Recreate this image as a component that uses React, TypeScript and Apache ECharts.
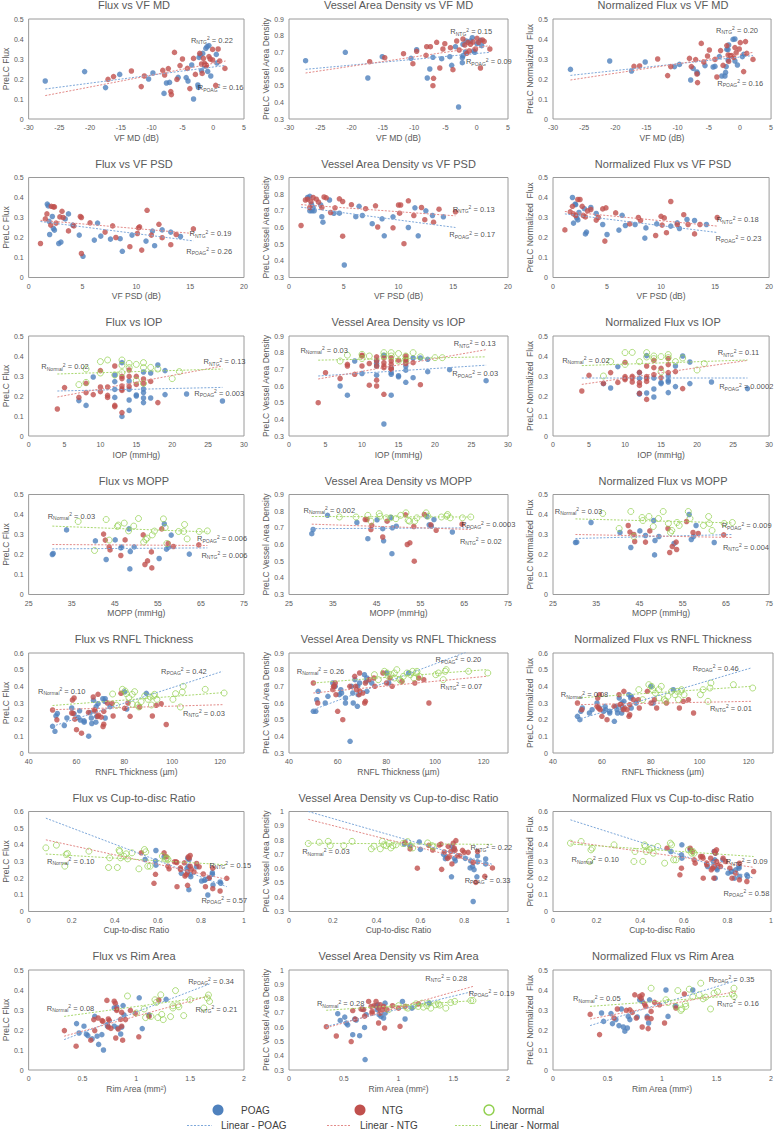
import React, { useEffect, useRef } from "react";
import * as echarts from "echarts";

type Pt = [number, number];
type Note = [string, string, number, number];

// ---------- Row 1: VF MD ----------
const mdFluxPoag: Pt[] = [[-27.3,0.19],[-20.9,0.237],[-17.5,0.157],[-15.2,0.223],[-10.5,0.2],[-9.8,0.23],[-8,0.128],[-7.6,0.18],[-7.1,0.183],[-5.7,0.208],[-4.4,0.207],[-4.1,0.19],[-3.5,0.27],[-3.2,0.1],[-2.5,0.17],[-2.4,0.158],[-2.3,0.308],[-2.1,0.32],[-1.9,0.242],[-1.7,0.328],[-1.4,0.265],[-1.2,0.353],[-1,0.362],[-0.9,0.238],[-0.7,0.367],[-0.4,0.215],[0.5,0.323],[0.6,0.28]];
const mdFluxNtg: Pt[] = [[-17.1,0.198],[-16.2,0.212],[-13.3,0.24],[-11.7,0.162],[-11.2,0.215],[-8.2,0.243],[-7.9,0.22],[-7.3,0.252],[-6.9,0.137],[-6.8,0.122],[-6.3,0.333],[-5.9,0.198],[-5.4,0.267],[-5,0.3],[-4.2,0.253],[-3.8,0.152],[-3.2,0.303],[-2.9,0.223],[-2.2,0.328],[-1.9,0.275],[-1.8,0.228],[-1.6,0.303],[-1.4,0.278],[-1.2,0.27],[-1.1,0.267],[-0.7,0.312],[-0.5,0.3],[-0.1,0.348],[-0.1,0.295],[0.4,0.168],[0.8,0.35],[1.05,0.29],[1.9,0.253]];
const mdFluxTrendPoag: Pt[] = [[-27.3,0.15],[2.0,0.268]];
const mdFluxTrendNtg: Pt[] = [[-27.3,0.117],[2.0,0.29]];
const mdFluxNotes: Note[] = [["NTG","0.22",-3.7,0.395],["POAG","0.16",-2.6,0.157]];

const mdVadPoag: Pt[] = [[-27.35,0.65],[-21,0.7],[-17.4,0.546],[-15.1,0.674],[-10.5,0.664],[-9.6,0.716],[-7.9,0.546],[-7.5,0.6],[-7,0.67],[-5.6,0.662],[-4.3,0.674],[-4,0.622],[-3.4,0.734],[-2.9,0.372],[-2.3,0.668],[-2.3,0.638],[-2.2,0.68],[-2.2,0.748],[-1.8,0.702],[-1.7,0.768],[-1,0.768],[-0.7,0.788],[-0.5,0.708],[-0.3,0.7],[0.05,0.752],[0.6,0.772],[0.8,0.74]];
const mdVadNtg: Pt[] = [[-17.1,0.644],[-14.7,0.668],[-11.7,0.692],[-10.2,0.632],[-9.6,0.706],[-8.1,0.682],[-8,0.734],[-7.4,0.734],[-7,0.5],[-6.9,0.544],[-6.4,0.76],[-5.9,0.606],[-5.4,0.72],[-5.1,0.752],[-4.2,0.728],[-3.8,0.596],[-3.2,0.768],[-2.8,0.714],[-2.2,0.78],[-1.9,0.744],[-1.6,0.694],[-1.4,0.76],[-1.2,0.708],[-1,0.748],[-0.6,0.762],[-0.2,0.72],[0.05,0.784],[0.3,0.76],[0.6,0.606],[0.9,0.774],[1.2,0.766],[2.1,0.72]];
const mdVadTrendPoag: Pt[] = [[-27.35,0.598],[2.1,0.7]];
const mdVadTrendNtg: Pt[] = [[-27.35,0.576],[2.1,0.74]];
const mdVadNotes: Note[] = [["NTG","0.15",-4.3,0.824],["POAG","0.09",-1.8,0.644]];

const mdNfPoag: Pt[] = [[-27.2,0.248],[-20.9,0.29],[-17.4,0.24],[-15.2,0.285],[-10.5,0.262],[-9.7,0.273],[-7.9,0.195],[-7.5,0.253],[-6.9,0.235],[-6.8,0.228],[-5.6,0.267],[-4.3,0.26],[-4,0.263],[-3.3,0.312],[-2.9,0.215],[-2.4,0.215],[-2.3,0.233],[-2.2,0.262],[-2.1,0.348],[-1.9,0.347],[-1.9,0.295],[-1.8,0.37],[-1.1,0.398],[-0.8,0.4],[-0.8,0.29],[-0.4,0.27],[0.4,0.312],[0.6,0.323]];
const mdNfNtg: Pt[] = [[-17,0.263],[-16.1,0.265],[-13.2,0.3],[-11.6,0.217],[-11.1,0.262],[-8.1,0.303],[-7.8,0.262],[-7.1,0.297],[-6.9,0.225],[-6.8,0.182],[-6.2,0.378],[-5.8,0.285],[-5.2,0.315],[-4.9,0.345],[-4,0.298],[-3.7,0.21],[-3.1,0.342],[-2.7,0.268],[-2.1,0.367],[-1.9,0.32],[-1.8,0.288],[-1.6,0.317],[-1.3,0.317],[-1,0.308],[-0.8,0.357],[-0.6,0.332],[-0.1,0.35],[0.06,0.382],[0.6,0.237],[0.9,0.387],[1.1,0.328],[2.1,0.298]];
const mdNfTrendPoag: Pt[] = [[-27.2,0.218],[2.1,0.317]];
const mdNfTrendNtg: Pt[] = [[-27.2,0.195],[2.1,0.333]];
const mdNfNotes: Note[] = [["NTG","0.20",-3.9,0.445],["POAG","0.16",-3.7,0.178]];

// ---------- Row 2: VF PSD ----------
const psdFluxPoag: Pt[] = [[1.73,0.367],[1.82,0.358],[1.9,0.281],[1.95,0.215],[2.2,0.305],[2.3,0.245],[2.4,0.237],[2.8,0.17],[3,0.177],[3.4,0.293],[3.7,0.318],[4.1,0.262],[4.7,0.212],[5.05,0.106],[6.1,0.187],[6.4,0.272],[6.7,0.207],[7.6,0.192],[8.5,0.194],[8.7,0.131],[9.6,0.212],[10.9,0.182],[11.5,0.232],[11.7,0.159],[12.4,0.238],[13.2,0.227],[14.1,0.205]];
const psdFluxNtg: Pt[] = [[1.1,0.17],[1.55,0.293],[1.7,0.318],[2.05,0.262],[2.1,0.356],[2.3,0.353],[2.4,0.353],[2.55,0.272],[2.9,0.303],[3.1,0.331],[3.2,0.3],[3.7,0.233],[4.2,0.258],[4.8,0.305],[4.9,0.3],[4.9,0.12],[5.7,0.273],[7.1,0.227],[7.8,0.258],[8.1,0.2],[9.4,0.154],[10.1,0.22],[10.2,0.248],[10.3,0.253],[10.5,0.137],[11,0.336],[11.4,0.212],[12.1,0.266],[12.4,0.199],[13.2,0.164],[13.7,0.215],[15.3,0.243]];
const psdFluxTrendPoag: Pt[] = [[1.1,0.28],[15.3,0.183]];
const psdFluxTrendNtg: Pt[] = [[1.1,0.286],[15.3,0.22]];
const psdFluxNotes: Note[] = [["NTG","0.19",14.9,0.22],["POAG","0.26",14.6,0.132]];

const psdVadPoag: Pt[] = [[1.7,0.78],[1.9,0.787],[1.9,0.7],[2.05,0.74],[2.1,0.7],[2.2,0.72],[2.3,0.7],[2.9,0.735],[3,0.665],[3.1,0.632],[3.7,0.765],[4.1,0.685],[4.6,0.686],[5.05,0.375],[6.1,0.665],[6.4,0.727],[6.7,0.672],[7.6,0.623],[8.5,0.652],[8.7,0.55],[9.5,0.664],[10.9,0.6],[11.5,0.718],[11.8,0.55],[12.5,0.7],[13.1,0.672],[14.1,0.664]];
const psdVadNtg: Pt[] = [[1.1,0.612],[1.5,0.765],[1.7,0.77],[1.9,0.72],[2,0.755],[2.2,0.78],[2.5,0.77],[2.7,0.752],[3,0.72],[3.2,0.783],[3.4,0.778],[3.8,0.69],[4.2,0.718],[4.6,0.772],[4.9,0.756],[4.9,0.548],[5.7,0.737],[7,0.713],[7.9,0.73],[8.1,0.603],[9.5,0.598],[10,0.735],[10.1,0.686],[10.2,0.735],[10.5,0.503],[10.9,0.76],[11.4,0.672],[12.1,0.72],[12.4,0.647],[13.2,0.632],[13.7,0.71],[15.2,0.694]];
const psdVadTrendPoag: Pt[] = [[1.1,0.722],[15.2,0.6]];
const psdVadTrendNtg: Pt[] = [[1.1,0.737],[15.2,0.67]];
const psdVadNotes: Note[] = [["NTG","0.13",14.9,0.71],["POAG","0.17",14.6,0.558]];

const psdNfPoag: Pt[] = [[1.8,0.4],[2.05,0.367],[1.9,0.272],[2.1,0.364],[2.2,0.298],[2.3,0.288],[2.4,0.325],[2.9,0.344],[3,0.218],[3.1,0.227],[3.5,0.35],[4,0.32],[4.6,0.265],[5,0.215],[6.1,0.237],[6.4,0.311],[6.7,0.26],[7.6,0.265],[8.5,0.197],[8.6,0.248],[9.6,0.268],[10.9,0.257],[11.5,0.273],[11.7,0.245],[12.4,0.29],[13.1,0.285],[14.2,0.265]];
const psdNfNtg: Pt[] = [[1.1,0.238],[1.6,0.328],[1.8,0.356],[1.9,0.318],[2.1,0.31],[2.3,0.39],[2.5,0.39],[2.7,0.356],[2.8,0.31],[3,0.303],[3.2,0.333],[3.5,0.34],[4,0.287],[4.2,0.3],[4.6,0.343],[4.9,0.348],[4.8,0.182],[5.8,0.323],[7.1,0.268],[7.9,0.3],[8.1,0.285],[9.5,0.21],[10,0.306],[10.1,0.262],[10.3,0.298],[10.5,0.224],[10.9,0.38],[11.5,0.265],[12.1,0.314],[12.5,0.265],[13.1,0.218],[13.6,0.265],[15.2,0.3]];
const psdNfTrendPoag: Pt[] = [[1.1,0.318],[15.2,0.225]];
const psdNfTrendNtg: Pt[] = [[1.1,0.33],[15.2,0.257]];
const psdNfNotes: Note[] = [["NTG","0.18",15.1,0.29],["POAG","0.23",15.0,0.195]];

// ---------- Row 3: IOP ----------
const iopFluxPoag: Pt[] = [[7,0.177],[8,0.153],[9,0.295],[12,0.305],[12,0.272],[12,0.233],[12,0.193],[13,0.367],[13,0.098],[14,0.275],[14,0.233],[14,0.18],[14,0.128],[15,0.205],[15,0.2],[16,0.32],[16,0.235],[16,0.217],[16,0.19],[16,0.167],[17,0.315],[17,0.19],[18,0.355],[19,0.327],[19,0.207],[22,0.21],[27,0.175]];
const iopFluxNtg: Pt[] = [[4,0.135],[5,0.242],[7,0.193],[8,0.263],[8,0.217],[9,0.207],[10,0.327],[10,0.245],[10,0.222],[11,0.245],[11,0.203],[11,0.193],[12,0.35],[12,0.153],[12,0.147],[13,0.298],[13,0.287],[13,0.25],[13,0.235],[13,0.228],[13,0.117],[14,0.33],[14,0.298],[14,0.248],[15,0.298],[15,0.258],[16,0.285],[16,0.263],[17,0.273],[18,0.167]];
const iopFluxNormal: Pt[] = [[7,0.257],[8,0.335],[8,0.268],[10,0.372],[10,0.315],[11,0.38],[12,0.305],[13,0.38],[13,0.353],[13,0.317],[14,0.363],[14,0.342],[15,0.358],[15,0.278],[16,0.367],[16,0.342],[16,0.263],[17,0.343],[18,0.335],[20,0.287],[21,0.322]];
const iopFluxTrendPoag: Pt[] = [[4,0.225],[27,0.243]];
const iopFluxTrendNtg: Pt[] = [[4,0.195],[27,0.35]];
const iopFluxTrendNormal: Pt[] = [[4,0.31],[27,0.335]];
const iopFluxNotes: Note[] = [["Normal","0.02",1.7,0.347],["NTG","0.13",24.3,0.372],["POAG","0.003",23,0.213]];

const iopVadPoag: Pt[] = [[7,0.6],[8,0.545],[9,0.75],[10,0.675],[12,0.665],[12,0.72],[12,0.735],[12,0.755],[13,0.785],[13,0.372],[14,0.71],[14,0.68],[14,0.67],[14,0.545],[15,0.662],[15,0.655],[16,0.745],[16,0.72],[16,0.695],[16,0.622],[17,0.768],[17,0.65],[18,0.768],[19,0.76],[19,0.686],[22,0.698],[27,0.632]];
const iopVadNtg: Pt[] = [[4,0.5],[5,0.68],[7,0.645],[8,0.73],[8,0.72],[9,0.67],[10,0.785],[10,0.78],[10,0.72],[11,0.735],[11,0.605],[12,0.775],[12,0.635],[12,0.6],[12,0.75],[12,0.72],[13,0.77],[13,0.74],[13,0.72],[13,0.71],[13,0.55],[14,0.77],[14,0.75],[14,0.73],[14,0.705],[14,0.7],[15,0.755],[16,0.78],[16,0.765],[16,0.75],[16,0.735],[17,0.74],[18,0.608]];
const iopVadNormal: Pt[] = [[7,0.75],[8,0.785],[10,0.79],[10,0.765],[11,0.78],[13,0.8],[13,0.78],[14,0.8],[14,0.78],[15,0.795],[15,0.75],[16,0.78],[16,0.755],[17,0.8],[18,0.775],[20,0.77],[21,0.77]];
const iopVadTrendPoag: Pt[] = [[4,0.66],[27,0.725]];
const iopVadTrendNtg: Pt[] = [[4,0.642],[27,0.818]];
const iopVadTrendNormal: Pt[] = [[4,0.755],[27,0.775]];
const iopVadNotes: Note[] = [["Normal","0.03",1.5,0.815],["NTG","0.13",22.5,0.853],["POAG","0.03",22.3,0.674]];

const iopNfPoag: Pt[] = [[7,0.262],[8,0.24],[9,0.347],[12,0.317],[12,0.288],[12,0.213],[12,0.21],[13,0.402],[13,0.215],[14,0.29],[14,0.235],[14,0.195],[15,0.268],[15,0.262],[16,0.3],[16,0.278],[16,0.27],[16,0.217],[17,0.35],[17,0.247],[18,0.4],[19,0.37],[19,0.262],[22,0.27],[27,0.237]];
const iopNfNtg: Pt[] = [[4,0.225],[5,0.303],[7,0.263],[8,0.317],[9,0.268],[10,0.368],[10,0.297],[10,0.288],[10,0.282],[11,0.298],[11,0.29],[11,0.27],[12,0.318],[12,0.267],[12,0.253],[12,0.213],[13,0.35],[13,0.297],[13,0.288],[13,0.273],[13,0.183],[14,0.378],[14,0.342],[14,0.307],[15,0.338],[15,0.292],[16,0.387],[16,0.357],[16,0.317],[17,0.322],[18,0.237]];
const iopNfNormal: Pt[] = [[7,0.3],[8,0.372],[10,0.417],[10,0.358],[11,0.418],[12,0.372],[13,0.417],[13,0.395],[14,0.4],[14,0.387],[15,0.397],[15,0.32],[16,0.407],[16,0.392],[17,0.372],[18,0.39],[20,0.33],[21,0.362]];
const iopNfTrendPoag: Pt[] = [[4,0.29],[27,0.29]];
const iopNfTrendNtg: Pt[] = [[4,0.258],[27,0.378]];
const iopNfTrendNormal: Pt[] = [[4,0.352],[27,0.38]];
const iopNfNotes: Note[] = [["Normal","0.02",1.2,0.38],["NTG","0.11",22.8,0.417],["POAG","0.0002",23,0.247]];

// ---------- Row 4: MOPP ----------
const moppFluxPoag: Pt[] = [[30.5,0.2],[30.7,0.205],[33.8,0.323],[40.5,0.268],[43,0.175],[45.1,0.273],[46.4,0.233],[46.6,0.237],[48.3,0.328],[48.5,0.128],[48.6,0.215],[49.5,0.238],[55.3,0.18],[56.5,0.353],[57,0.227],[57.5,0.237],[58.1,0.297],[62.3,0.202]];
const moppFluxNtg: Pt[] = [[42.4,0.302],[42.8,0.272],[43.7,0.238],[43.9,0.223],[46.4,0.195],[47.4,0.273],[51.6,0.298],[52.6,0.168],[52,0.15],[53.5,0.213],[53.6,0.133],[55.9,0.328],[57.4,0.255],[58.6,0.24],[64.5,0.248]];
const moppFluxNormal: Pt[] = [[36.5,0.365],[40.3,0.22],[43,0.375],[43.7,0.272],[45.6,0.34],[45.8,0.347],[47.2,0.357],[48.2,0.318],[49.4,0.342],[50.5,0.38],[51.7,0.262],[52.2,0.275],[52.5,0.282],[53.7,0.298],[54.2,0.317],[56.3,0.378],[56.7,0.335],[57.1,0.255],[59.8,0.315],[61,0.315],[61.2,0.35],[61.8,0.278],[64.6,0.315],[66.5,0.318]];
const moppFluxTrendPoag: Pt[] = [[30.5,0.228],[66.5,0.233]];
const moppFluxTrendNtg: Pt[] = [[30.5,0.25],[66.5,0.245]];
const moppFluxTrendNormal: Pt[] = [[30.5,0.342],[66.5,0.313]];
const moppFluxNotes: Note[] = [["Normal","0.03",29.3,0.392],["POAG","0.006",64,0.278],["NTG","0.006",65,0.197]];

const moppVadPoag: Pt[] = [[30.2,0.665],[30.5,0.69],[33.8,0.775],[40.5,0.732],[43,0.635],[45.1,0.748],[46.4,0.695],[46.6,0.622],[48.3,0.762],[48.5,0.545],[48.6,0.7],[49.5,0.71],[56.5,0.768],[57,0.718],[57.5,0.71],[58.1,0.75],[62.3,0.675]];
const moppVadNtg: Pt[] = [[42.4,0.75],[42.8,0.75],[43.7,0.69],[43.9,0.715],[46.4,0.645],[47.4,0.74],[51.6,0.778],[52,0.6],[52.6,0.61],[53.5,0.708],[53.6,0.5],[55.9,0.78],[57.4,0.718],[58.6,0.685],[64.5,0.722]];
const moppVadNormal: Pt[] = [[36.5,0.765],[40.3,0.765],[43,0.775],[43.7,0.74],[45.6,0.785],[45.8,0.77],[47.2,0.76],[48.2,0.76],[49.4,0.755],[50.5,0.775],[51.7,0.79],[52.2,0.745],[52.5,0.74],[53.7,0.74],[54.2,0.76],[56.3,0.79],[56.7,0.77],[59.8,0.765],[61,0.77],[61.2,0.78],[61.8,0.76],[64.6,0.76],[66.5,0.765]];
const moppVadTrendPoag: Pt[] = [[30.2,0.695],[66.5,0.7]];
const moppVadTrendNtg: Pt[] = [[30.2,0.722],[66.5,0.69]];
const moppVadTrendNormal: Pt[] = [[30.2,0.768],[66.5,0.765]];
const moppVadNotes: Note[] = [["Normal","0.002",28.2,0.805],["POAG","0.0003",64.2,0.72],["NTG","0.02",63.9,0.62]];

const moppNfPoag: Pt[] = [[30.2,0.26],[30.5,0.262],[33.8,0.36],[40.5,0.31],[43,0.235],[45.1,0.318],[46.4,0.295],[48.3,0.37],[48.5,0.198],[48.6,0.27],[49.5,0.29],[53,0.255],[56.5,0.4],[57,0.275],[57.5,0.29],[58.1,0.345],[62.3,0.26]];
const moppNfNtg: Pt[] = [[42.4,0.345],[42.8,0.312],[43.7,0.3],[43.9,0.265],[46.4,0.262],[47.4,0.318],[51.6,0.33],[52,0.21],[52.6,0.24],[53.5,0.262],[53.6,0.225],[55.9,0.365],[57.4,0.31],[58.6,0.305],[64.5,0.298]];
const moppNfNormal: Pt[] = [[36.5,0.405],[40.3,0.33],[43,0.415],[43.7,0.29],[45.6,0.385],[45.8,0.37],[47.2,0.39],[48.2,0.34],[49.4,0.38],[50.5,0.415],[51.7,0.355],[52.2,0.31],[52.5,0.32],[53.7,0.36],[54.2,0.345],[56.3,0.415],[56.7,0.38],[59.8,0.345],[61,0.39],[61.2,0.355],[61.8,0.32],[64.6,0.355],[66.5,0.36]];
const moppNfTrendPoag: Pt[] = [[30.2,0.28],[66.5,0.3]];
const moppNfTrendNtg: Pt[] = [[30.2,0.3],[66.5,0.285]];
const moppNfTrendNormal: Pt[] = [[30.2,0.378],[66.5,0.358]];
const moppNfNotes: Note[] = [["Normal","0.03",25.3,0.417],["POAG","0.009",63.9,0.345],["NTG","0.004",64.2,0.237]];

// ---------- Row 5: RNFL thickness ----------
const rnflFluxPoag: Pt[] = [[50,0.16],[51,0.13],[51.4,0.223],[52,0.237],[54.9,0.165],[56,0.21],[58,0.27],[59,0.235],[60.7,0.213],[61.3,0.253],[61.6,0.198],[63.2,0.193],[63.2,0.185],[65.1,0.101],[65.7,0.242],[66.2,0.21],[66.4,0.177],[67.1,0.316],[68.1,0.185],[68.4,0.22],[68.2,0.278],[69,0.296],[71,0.326],[72,0.326],[71.8,0.31],[72,0.21],[74,0.278],[80.1,0.367],[81,0.264],[89.2,0.358]];
const rnflFluxNtg: Pt[] = [[50,0.258],[51.8,0.199],[58.3,0.318],[59,0.33],[59.3,0.203],[58,0.24],[58.6,0.238],[60,0.14],[62.1,0.119],[65,0.243],[67,0.336],[67.4,0.258],[67.8,0.252],[69,0.352],[68.8,0.219],[69.2,0.227],[70.3,0.215],[71.4,0.25],[71.1,0.159],[71.4,0.173],[72.9,0.3],[74.9,0.298],[75.3,0.222],[78.6,0.358],[80.1,0.268],[81.5,0.3],[82.4,0.22],[86.4,0.276],[91.7,0.222],[93.3,0.286],[95.4,0.296],[97.5,0.171]];
const rnflFluxNormal: Pt[] = [[75.1,0.354],[76.7,0.286],[79.2,0.382],[80.3,0.372],[80.8,0.356],[81.9,0.332],[83.3,0.352],[83.4,0.292],[84.3,0.368],[85.5,0.288],[86.1,0.276],[87,0.308],[88.5,0.342],[89.9,0.322],[90.8,0.336],[91.3,0.288],[92.3,0.342],[92.6,0.352],[93.6,0.322],[100.3,0.322],[101.4,0.356],[103.4,0.276],[104.2,0.366],[104.6,0.4],[113.8,0.382],[121.7,0.36]];
const rnflFluxTrendPoag: Pt[] = [[50,0.16],[121,0.49]];
const rnflFluxTrendNtg: Pt[] = [[50,0.26],[121,0.29]];
const rnflFluxTrendNormal: Pt[] = [[50,0.285],[121,0.362]];
const rnflFluxNotes: Note[] = [["POAG","0.42",95.1,0.49],["Normal","0.10",43.7,0.372],["NTG","0.03",104.3,0.238]];

const rnflVadPoag: Pt[] = [[50,0.55],[51,0.55],[51.4,0.62],[52,0.67],[54.9,0.6],[56,0.64],[58,0.72],[59,0.7],[60.7,0.65],[61.3,0.68],[61.6,0.66],[63.2,0.6],[63.2,0.63],[65.1,0.37],[65.7,0.7],[66.2,0.66],[66.4,0.6],[67.1,0.74],[68.1,0.58],[68.4,0.65],[68.2,0.7],[69,0.72],[71,0.77],[72,0.75],[71.8,0.73],[72,0.67],[74,0.72],[80.1,0.78],[81,0.72],[89.2,0.78]];
const rnflVadNtg: Pt[] = [[50,0.72],[51.8,0.6],[58.3,0.7],[59,0.72],[59.3,0.65],[58,0.68],[58.6,0.7],[60,0.55],[62.1,0.5],[65,0.7],[67,0.76],[67.4,0.7],[67.8,0.68],[69,0.78],[68.8,0.65],[69.2,0.67],[70.3,0.66],[71.4,0.72],[71.1,0.6],[71.4,0.61],[72.9,0.74],[74.9,0.75],[75.3,0.7],[78.6,0.78],[80.1,0.72],[81.5,0.75],[82.4,0.7],[86.4,0.73],[91.7,0.72],[93.3,0.75],[95.4,0.74],[97.5,0.6]];
const rnflVadNormal: Pt[] = [[75.1,0.77],[76.7,0.74],[79.2,0.79],[80.3,0.78],[80.8,0.76],[81.9,0.77],[83.3,0.78],[83.4,0.75],[84.3,0.8],[85.5,0.74],[86.1,0.73],[87,0.76],[88.5,0.78],[89.9,0.77],[90.8,0.79],[91.3,0.75],[92.3,0.78],[92.6,0.79],[93.6,0.76],[100.3,0.77],[101.4,0.78],[103.4,0.74],[104.2,0.79],[104.6,0.8],[113.8,0.79],[121.7,0.78]];
const rnflVadTrendPoag: Pt[] = [[50,0.56],[121,0.95]];
const rnflVadTrendNtg: Pt[] = [[50,0.66],[121,0.76]];
const rnflVadTrendNormal: Pt[] = [[50,0.72],[121,0.8]];
const rnflVadNotes: Note[] = [["POAG","0.20",100,0.86],["Normal","0.26",43,0.79],["NTG","0.07",102,0.7]];

const rnflNfPoag: Pt[] = [[50,0.22],[51,0.2],[51.4,0.25],[52,0.27],[54.9,0.24],[56,0.26],[58,0.3],[59,0.27],[60.7,0.25],[61.3,0.28],[61.6,0.26],[63.2,0.25],[63.2,0.24],[65.1,0.19],[65.7,0.28],[66.2,0.26],[66.4,0.24],[67.1,0.33],[68.1,0.24],[68.4,0.27],[68.2,0.3],[69,0.31],[71,0.35],[72,0.34],[71.8,0.33],[72,0.27],[74,0.3],[80.1,0.4],[81,0.3],[89.2,0.38]];
const rnflNfNtg: Pt[] = [[50,0.3],[51.8,0.26],[58.3,0.33],[59,0.35],[59.3,0.26],[58,0.28],[58.6,0.27],[60,0.22],[62.1,0.2],[65,0.28],[67,0.35],[67.4,0.29],[67.8,0.29],[69,0.37],[68.8,0.26],[69.2,0.27],[70.3,0.26],[71.4,0.29],[71.1,0.22],[71.4,0.23],[72.9,0.32],[74.9,0.32],[75.3,0.27],[78.6,0.37],[80.1,0.3],[81.5,0.32],[82.4,0.27],[86.4,0.3],[91.7,0.27],[93.3,0.31],[95.4,0.32],[97.5,0.24]];
const rnflNfNormal: Pt[] = [[75.1,0.38],[76.7,0.32],[79.2,0.41],[80.3,0.4],[80.8,0.38],[81.9,0.36],[83.3,0.38],[83.4,0.33],[84.3,0.4],[85.5,0.32],[86.1,0.31],[87,0.34],[88.5,0.37],[89.9,0.35],[90.8,0.37],[91.3,0.32],[92.3,0.37],[92.6,0.38],[93.6,0.35],[100.3,0.35],[101.4,0.38],[103.4,0.31],[104.2,0.39],[104.6,0.42],[113.8,0.41],[121.7,0.39]];
const rnflNfTrendPoag: Pt[] = [[50,0.2],[121,0.51]];
const rnflNfTrendNtg: Pt[] = [[50,0.29],[121,0.31]];
const rnflNfTrendNormal: Pt[] = [[50,0.33],[121,0.4]];
const rnflNfNotes: Note[] = [["POAG","0.46",97,0.51],["Normal","0.08",43,0.35],["NTG","0.01",104,0.27]];

// ---------- Row 6: Cup-to-disc ratio ----------
const cdrFluxPoag: Pt[] = [[0.541,0.312],[0.591,0.366],[0.589,0.304],[0.591,0.278],[0.629,0.328],[0.709,0.229],[0.735,0.258],[0.739,0.32],[0.742,0.272],[0.744,0.131],[0.75,0.223],[0.753,0.209],[0.745,0.312],[0.779,0.268],[0.803,0.183],[0.817,0.187],[0.821,0.193],[0.832,0.099],[0.838,0.203],[0.853,0.233],[0.853,0.223],[0.856,0.159],[0.889,0.177],[0.892,0.169]];
const cdrFluxNtg: Pt[] = [[0.523,0.352],[0.589,0.223],[0.582,0.169],[0.629,0.352],[0.639,0.328],[0.647,0.272],[0.652,0.256],[0.677,0.298],[0.685,0.298],[0.688,0.294],[0.689,0.149],[0.705,0.262],[0.705,0.252],[0.723,0.292],[0.726,0.213],[0.732,0.221],[0.738,0.237],[0.738,0.157],[0.741,0.328],[0.745,0.32],[0.75,0.336],[0.75,0.272],[0.756,0.252],[0.768,0.237],[0.78,0.288],[0.792,0.268],[0.811,0.225],[0.821,0.149],[0.838,0.199],[0.855,0.26],[0.855,0.137],[0.889,0.123],[0.92,0.199]];
const cdrFluxNormal: Pt[] = [[0.08,0.382],[0.129,0.398],[0.168,0.272],[0.174,0.342],[0.18,0.348],[0.28,0.362],[0.371,0.264],[0.376,0.322],[0.412,0.264],[0.42,0.368],[0.423,0.36],[0.427,0.322],[0.442,0.332],[0.453,0.346],[0.46,0.316],[0.48,0.352],[0.512,0.256],[0.538,0.372],[0.544,0.358],[0.553,0.272],[0.564,0.272],[0.621,0.332],[0.636,0.314],[0.642,0.322],[0.647,0.312]];
const cdrFluxTrendPoag: Pt[] = [[0.08,0.56],[0.92,0.149]];
const cdrFluxTrendNtg: Pt[] = [[0.08,0.43],[0.92,0.193]];
const cdrFluxTrendNormal: Pt[] = [[0.08,0.345],[0.92,0.28]];
const cdrFluxNotes: Note[] = [["Normal","0.10",0.083,0.302],["NTG","0.15",0.836,0.277],["POAG","0.57",0.8,0.068]];

const cdrVadPoag: Pt[] = [[0.527,0.772],[0.553,0.761],[0.595,0.787],[0.6,0.735],[0.706,0.7],[0.714,0.67],[0.72,0.683],[0.742,0.543],[0.744,0.756],[0.752,0.735],[0.756,0.672],[0.759,0.654],[0.805,0.672],[0.827,0.605],[0.83,0.654],[0.838,0.616],[0.845,0.593],[0.841,0.37],[0.858,0.543],[0.861,0.647],[0.861,0.689],[0.898,0.668],[0.898,0.633]];
const cdrVadNtg: Pt[] = [[0.53,0.784],[0.553,0.738],[0.586,0.603],[0.638,0.763],[0.656,0.73],[0.686,0.765],[0.694,0.772],[0.697,0.595],[0.709,0.717],[0.724,0.672],[0.727,0.756],[0.732,0.683],[0.739,0.72],[0.744,0.633],[0.75,0.778],[0.755,0.744],[0.758,0.728],[0.762,0.796],[0.77,0.69],[0.78,0.69],[0.792,0.728],[0.8,0.714],[0.818,0.714],[0.841,0.644],[0.853,0.504],[0.861,0.72],[0.894,0.546],[0.929,0.605]];
const cdrVadNormal: Pt[] = [[0.088,0.776],[0.138,0.785],[0.179,0.791],[0.188,0.761],[0.25,0.761],[0.288,0.791],[0.376,0.739],[0.388,0.757],[0.417,0.739],[0.426,0.791],[0.433,0.767],[0.444,0.761],[0.456,0.776],[0.465,0.745],[0.474,0.761],[0.489,0.767],[0.52,0.776],[0.542,0.789],[0.554,0.761],[0.565,0.745],[0.633,0.78],[0.653,0.761],[0.659,0.752]];
const cdrVadTrendPoag: Pt[] = [[0.088,1.0],[0.929,0.63]];
const cdrVadTrendNtg: Pt[] = [[0.088,0.945],[0.929,0.618]];
const cdrVadTrendNormal: Pt[] = [[0.088,0.778],[0.929,0.77]];
const cdrVadNotes: Note[] = [["Normal","0.03",0.058,0.717],["NTG","0.22",0.826,0.745],["POAG","0.33",0.8,0.52]];

const cdrNfPoag: Pt[] = [[0.541,0.36],[0.591,0.4],[0.589,0.34],[0.591,0.32],[0.629,0.37],[0.709,0.27],[0.735,0.3],[0.739,0.36],[0.742,0.31],[0.744,0.2],[0.75,0.26],[0.753,0.25],[0.745,0.35],[0.779,0.31],[0.803,0.23],[0.817,0.24],[0.821,0.24],[0.832,0.2],[0.838,0.25],[0.853,0.27],[0.853,0.26],[0.856,0.21],[0.889,0.22],[0.892,0.21]];
const cdrNfNtg: Pt[] = [[0.523,0.38],[0.589,0.26],[0.582,0.22],[0.629,0.38],[0.639,0.36],[0.647,0.31],[0.652,0.29],[0.677,0.33],[0.685,0.33],[0.688,0.32],[0.689,0.2],[0.705,0.29],[0.705,0.28],[0.723,0.32],[0.726,0.25],[0.732,0.26],[0.738,0.27],[0.738,0.2],[0.741,0.36],[0.745,0.35],[0.75,0.37],[0.75,0.3],[0.756,0.28],[0.768,0.27],[0.78,0.32],[0.792,0.3],[0.811,0.26],[0.821,0.2],[0.838,0.23],[0.855,0.29],[0.855,0.19],[0.889,0.18],[0.92,0.24]];
const cdrNfNormal: Pt[] = [[0.08,0.41],[0.129,0.42],[0.168,0.3],[0.174,0.37],[0.18,0.38],[0.28,0.4],[0.371,0.3],[0.376,0.36],[0.412,0.3],[0.42,0.4],[0.423,0.39],[0.427,0.36],[0.442,0.37],[0.453,0.38],[0.46,0.35],[0.48,0.39],[0.512,0.29],[0.538,0.41],[0.544,0.4],[0.553,0.31],[0.564,0.31],[0.621,0.37],[0.636,0.35],[0.642,0.36],[0.647,0.35]];
const cdrNfTrendPoag: Pt[] = [[0.08,0.55],[0.92,0.2]];
const cdrNfTrendNtg: Pt[] = [[0.08,0.42],[0.92,0.265]];
const cdrNfTrendNormal: Pt[] = [[0.08,0.405],[0.92,0.33]];
const cdrNfNotes: Note[] = [["Normal","0.10",0.083,0.31],["NTG","0.09",0.79,0.3],["POAG","0.58",0.78,0.11]];

// ---------- Row 7: Rim area ----------
const rimFluxPoag: Pt[] = [[0.445,0.232],[0.468,0.185],[0.514,0.219],[0.536,0.179],[0.55,0.172],[0.59,0.156],[0.614,0.268],[0.636,0.169],[0.65,0.128],[0.68,0.177],[0.695,0.1],[0.732,0.227],[0.732,0.219],[0.795,0.31],[0.795,0.219],[0.818,0.315],[0.827,0.21],[0.855,0.18],[0.864,0.214],[0.877,0.322],[0.886,0.275],[1.027,0.361],[1.055,0.207],[1.118,0.275],[1.277,0.353]];
const rimFluxNtg: Pt[] = [[0.332,0.197],[0.441,0.119],[0.577,0.149],[0.605,0.252],[0.614,0.197],[0.645,0.26],[0.682,0.247],[0.69,0.243],[0.727,0.348],[0.74,0.255],[0.75,0.247],[0.74,0.215],[0.764,0.208],[0.795,0.344],[0.805,0.334],[0.809,0.16],[0.818,0.305],[0.818,0.298],[0.832,0.205],[0.855,0.253],[0.864,0.288],[0.864,0.219],[0.873,0.149],[0.9,0.252],[0.945,0.298],[0.99,0.283],[1.023,0.166],[1.118,0.268],[1.209,0.35]];
const rimFluxNormal: Pt[] = [[0.918,0.37],[1.0,0.285],[1.073,0.305],[1.086,0.262],[1.136,0.268],[1.173,0.351],[1.186,0.338],[1.2,0.262],[1.227,0.376],[1.236,0.278],[1.25,0.252],[1.318,0.267],[1.34,0.321],[1.34,0.31],[1.364,0.397],[1.386,0.326],[1.395,0.316],[1.44,0.272],[1.5,0.351],[1.627,0.31],[1.66,0.36],[1.67,0.375],[1.68,0.343]];
const rimFluxTrendPoag: Pt[] = [[0.33,0.152],[1.68,0.43]];
const rimFluxTrendNtg: Pt[] = [[0.33,0.169],[1.68,0.371]];
const rimFluxTrendNormal: Pt[] = [[0.33,0.268],[1.68,0.368]];
const rimFluxNotes: Note[] = [["POAG","0.34",1.477,0.445],["Normal","0.08",0.164,0.31],["NTG","0.21",1.545,0.305]];

const rimVadPoag: Pt[] = [[0.445,0.694],[0.468,0.647],[0.509,0.67],[0.523,0.628],[0.536,0.616],[0.582,0.547],[0.6,0.656],[0.614,0.65],[0.645,0.54],[0.673,0.726],[0.69,0.598],[0.695,0.373],[0.705,0.687],[0.795,0.75],[0.805,0.722],[0.81,0.757],[0.823,0.687],[0.84,0.675],[0.864,0.664],[0.877,0.698],[0.877,0.768],[1.036,0.78],[1.06,0.657],[1.123,0.733],[1.282,0.768]];
const rimVadNtg: Pt[] = [[0.341,0.603],[0.432,0.538],[0.568,0.499],[0.582,0.716],[0.605,0.656],[0.659,0.726],[0.682,0.723],[0.69,0.677],[0.727,0.78],[0.75,0.745],[0.759,0.71],[0.759,0.698],[0.777,0.75],[0.795,0.78],[0.818,0.733],[0.832,0.698],[0.832,0.757],[0.818,0.629],[0.855,0.722],[0.864,0.745],[0.873,0.594],[0.895,0.722],[0.945,0.75],[1.0,0.733],[1.014,0.606],[1.06,0.745],[1.182,0.763]];
const rimVadNormal: Pt[] = [[0.909,0.722],[1.0,0.75],[1.068,0.74],[1.086,0.733],[1.14,0.75],[1.16,0.763],[1.18,0.745],[1.214,0.768],[1.227,0.74],[1.26,0.75],[1.273,0.768],[1.295,0.733],[1.34,0.757],[1.364,0.763],[1.377,0.754],[1.432,0.733],[1.477,0.772],[1.514,0.78],[1.66,0.786],[1.68,0.786]];
const rimVadTrendPoag: Pt[] = [[0.34,0.605],[1.68,0.85]];
const rimVadTrendNtg: Pt[] = [[0.34,0.595],[1.68,0.885]];
const rimVadTrendNormal: Pt[] = [[0.34,0.718],[1.68,0.785]];
const rimVadNotes: Note[] = [["Normal","0.28",0.25,0.764],["NTG","0.28",1.24,0.943],["POAG","0.19",1.636,0.838]];

const rimNfPoag: Pt[] = [[0.445,0.285],[0.464,0.243],[0.532,0.282],[0.545,0.232],[0.577,0.252],[0.605,0.222],[0.627,0.305],[0.645,0.215],[0.659,0.194],[0.682,0.21],[0.69,0.268],[0.705,0.252],[0.773,0.265],[0.795,0.351],[0.818,0.343],[0.864,0.268],[0.877,0.235],[0.886,0.351],[1.036,0.4],[1.055,0.268],[1.123,0.321],[1.282,0.4]];
const rimNfNtg: Pt[] = [[0.341,0.278],[0.427,0.177],[0.559,0.26],[0.59,0.305],[0.673,0.298],[0.705,0.301],[0.727,0.288],[0.75,0.376],[0.764,0.26],[0.795,0.368],[0.809,0.358],[0.818,0.376],[0.818,0.215],[0.84,0.33],[0.85,0.318],[0.864,0.26],[0.873,0.207],[0.9,0.293],[0.9,0.257],[0.932,0.338],[0.977,0.326],[1.023,0.235],[1.127,0.31],[1.205,0.38]];
const rimNfNormal: Pt[] = [[0.9,0.409],[1.036,0.351],[1.055,0.338],[1.127,0.318],[1.145,0.397],[1.173,0.298],[1.182,0.305],[1.214,0.331],[1.218,0.318],[1.25,0.404],[1.282,0.366],[1.341,0.376],[1.355,0.434],[1.377,0.356],[1.4,0.364],[1.445,0.305],[1.477,0.384],[1.509,0.392],[1.645,0.38],[1.66,0.409],[1.66,0.368]];
const rimNfTrendPoag: Pt[] = [[0.34,0.222],[1.68,0.447]];
const rimNfTrendNtg: Pt[] = [[0.34,0.255],[1.68,0.392]];
const rimNfTrendNormal: Pt[] = [[0.34,0.318],[1.68,0.372]];
const rimNfNotes: Note[] = [["POAG","0.35",1.423,0.454],["Normal","0.05",0.18,0.356],["NTG","0.16",1.5,0.334]];

// ---------- Axis / panel descriptors ----------
const rowXNames = ["VF MD (dB)", "VF PSD (dB)", "IOP (mmHg)", "MOPP (mmHg)", "RNFL Thickness (µm)", "Cup-to-disc Ratio", "Rim Area (mm²)"];
const rowTitleSuffix = ["VF MD", "VF PSD", "IOP", "MOPP", "RNFL Thickness", "Cup-to-disc Ratio", "Rim Area"];
const rowXRange: [number, number, number][] = [[-30, 5, 5], [0, 20, 5], [0, 30, 5], [25, 75, 5], [40, 130, 20], [0, 1, 0.2], [0, 2, 0.5]];
const colTitlePrefix = ["Flux", "Vessel Area Density", "Normalized Flux"];
const colYNames = ["PreLC Flux", "PreLC Vessel Area Density", "PreLC Normalized  Flux"];
const yRanges: [number, number][][] = [
  [[0, 0.5], [0.3, 0.9], [0, 0.5]],
  [[0, 0.5], [0.3, 0.9], [0, 0.5]],
  [[0, 0.5], [0.3, 0.9], [0, 0.5]],
  [[0, 0.5], [0.3, 0.9], [0, 0.5]],
  [[0, 0.6], [0.3, 0.9], [0, 0.6]],
  [[0, 0.6], [0.3, 1.0], [0, 0.6]],
  [[0, 0.5], [0.3, 1.0], [0, 0.5]],
];

type PanelData = { poag: Pt[]; ntg: Pt[]; normal?: Pt[]; tPoag: Pt[]; tNtg: Pt[]; tNormal?: Pt[]; notes: Note[] };
const panelData: PanelData[][] = [
  [
    { poag: mdFluxPoag, ntg: mdFluxNtg, tPoag: mdFluxTrendPoag, tNtg: mdFluxTrendNtg, notes: mdFluxNotes },
    { poag: mdVadPoag, ntg: mdVadNtg, tPoag: mdVadTrendPoag, tNtg: mdVadTrendNtg, notes: mdVadNotes },
    { poag: mdNfPoag, ntg: mdNfNtg, tPoag: mdNfTrendPoag, tNtg: mdNfTrendNtg, notes: mdNfNotes },
  ],
  [
    { poag: psdFluxPoag, ntg: psdFluxNtg, tPoag: psdFluxTrendPoag, tNtg: psdFluxTrendNtg, notes: psdFluxNotes },
    { poag: psdVadPoag, ntg: psdVadNtg, tPoag: psdVadTrendPoag, tNtg: psdVadTrendNtg, notes: psdVadNotes },
    { poag: psdNfPoag, ntg: psdNfNtg, tPoag: psdNfTrendPoag, tNtg: psdNfTrendNtg, notes: psdNfNotes },
  ],
  [
    { poag: iopFluxPoag, ntg: iopFluxNtg, normal: iopFluxNormal, tPoag: iopFluxTrendPoag, tNtg: iopFluxTrendNtg, tNormal: iopFluxTrendNormal, notes: iopFluxNotes },
    { poag: iopVadPoag, ntg: iopVadNtg, normal: iopVadNormal, tPoag: iopVadTrendPoag, tNtg: iopVadTrendNtg, tNormal: iopVadTrendNormal, notes: iopVadNotes },
    { poag: iopNfPoag, ntg: iopNfNtg, normal: iopNfNormal, tPoag: iopNfTrendPoag, tNtg: iopNfTrendNtg, tNormal: iopNfTrendNormal, notes: iopNfNotes },
  ],
  [
    { poag: moppFluxPoag, ntg: moppFluxNtg, normal: moppFluxNormal, tPoag: moppFluxTrendPoag, tNtg: moppFluxTrendNtg, tNormal: moppFluxTrendNormal, notes: moppFluxNotes },
    { poag: moppVadPoag, ntg: moppVadNtg, normal: moppVadNormal, tPoag: moppVadTrendPoag, tNtg: moppVadTrendNtg, tNormal: moppVadTrendNormal, notes: moppVadNotes },
    { poag: moppNfPoag, ntg: moppNfNtg, normal: moppNfNormal, tPoag: moppNfTrendPoag, tNtg: moppNfTrendNtg, tNormal: moppNfTrendNormal, notes: moppNfNotes },
  ],
  [
    { poag: rnflFluxPoag, ntg: rnflFluxNtg, normal: rnflFluxNormal, tPoag: rnflFluxTrendPoag, tNtg: rnflFluxTrendNtg, tNormal: rnflFluxTrendNormal, notes: rnflFluxNotes },
    { poag: rnflVadPoag, ntg: rnflVadNtg, normal: rnflVadNormal, tPoag: rnflVadTrendPoag, tNtg: rnflVadTrendNtg, tNormal: rnflVadTrendNormal, notes: rnflVadNotes },
    { poag: rnflNfPoag, ntg: rnflNfNtg, normal: rnflNfNormal, tPoag: rnflNfTrendPoag, tNtg: rnflNfTrendNtg, tNormal: rnflNfTrendNormal, notes: rnflNfNotes },
  ],
  [
    { poag: cdrFluxPoag, ntg: cdrFluxNtg, normal: cdrFluxNormal, tPoag: cdrFluxTrendPoag, tNtg: cdrFluxTrendNtg, tNormal: cdrFluxTrendNormal, notes: cdrFluxNotes },
    { poag: cdrVadPoag, ntg: cdrVadNtg, normal: cdrVadNormal, tPoag: cdrVadTrendPoag, tNtg: cdrVadTrendNtg, tNormal: cdrVadTrendNormal, notes: cdrVadNotes },
    { poag: cdrNfPoag, ntg: cdrNfNtg, normal: cdrNfNormal, tPoag: cdrNfTrendPoag, tNtg: cdrNfTrendNtg, tNormal: cdrNfTrendNormal, notes: cdrNfNotes },
  ],
  [
    { poag: rimFluxPoag, ntg: rimFluxNtg, normal: rimFluxNormal, tPoag: rimFluxTrendPoag, tNtg: rimFluxTrendNtg, tNormal: rimFluxTrendNormal, notes: rimFluxNotes },
    { poag: rimVadPoag, ntg: rimVadNtg, normal: rimVadNormal, tPoag: rimVadTrendPoag, tNtg: rimVadTrendNtg, tNormal: rimVadTrendNormal, notes: rimVadNotes },
    { poag: rimNfPoag, ntg: rimNfNtg, normal: rimNfNormal, tPoag: rimNfTrendPoag, tNtg: rimNfTrendNtg, tNormal: rimNfTrendNormal, notes: rimNfNotes },
  ],
];

// ---------- styling ----------
const FONT = "'Liberation Sans', Arial, sans-serif";
const C_POAG = "#4F81BD";
const C_NTG = "#C0504D";
const C_NORMAL = "#92D050";
const T_POAG = "#7EA8DA";
const T_NTG = "#E38B89";
const T_NORMAL = "#A9D86E";
const TEXT_GREY = "#595959";

const colLeft = [24, 289, 553];
const colWidth = [220, 219, 220];
const rowTop0 = 19;
const rowStep = 158.5;
const plotH = 100;

const noteText = (g: string, v: string) => `{r|R}{s|${g}}{p|2}{r| = ${v}}`;

function buildOption() {
  const grid: any[] = [];
  const xAxis: any[] = [];
  const yAxis: any[] = [];
  const series: any[] = [];
  const graphic: any[] = [];

  for (let r = 0; r < 7; r++) {
    for (let c = 0; c < 3; c++) {
      const i = r * 3 + c;
      const top = rowTop0 + rowStep * r;
      grid.push({
        left: colLeft[c], top, width: colWidth[c], height: plotH,
        show: true, borderColor: "#9a9a9a", borderWidth: 1, backgroundColor: "transparent",
      });
      const [xmin, xmax, xint] = rowXRange[r];
      const isMopp = r === 3;
      xAxis.push({
        type: "value", gridIndex: i, min: xmin, max: xmax, interval: xint,
        name: rowXNames[r], nameLocation: "middle", nameGap: 14,
        nameTextStyle: { fontSize: 8.5, color: TEXT_GREY, fontFamily: FONT },
        axisLine: { show: false }, axisTick: { show: false }, splitLine: { show: false },
        axisLabel: {
          fontSize: 7, color: TEXT_GREY, fontFamily: FONT, margin: 5,
          showMaxLabel: r === 4 ? false : true,
          formatter: isMopp ? (v: number) => (Math.round(v - 25) % 10 === 0 ? String(v) : "") : undefined,
        },
      });
      const [ymin, ymax] = yRanges[r][c];
      yAxis.push({
        type: "value", gridIndex: i, min: ymin, max: ymax, interval: 0.1,
        name: colYNames[c], nameLocation: "middle", nameGap: 16,
        nameTextStyle: { fontSize: 8.5, color: TEXT_GREY, fontFamily: FONT },
        axisLine: { show: false }, axisTick: { show: false }, splitLine: { show: false },
        axisLabel: { fontSize: 7, color: TEXT_GREY, fontFamily: FONT, margin: 5 },
      });

      graphic.push({
        type: "text", x: colLeft[c] + colWidth[c] / 2, y: top - 14,
        style: {
          text: `${colTitlePrefix[c]} vs ${rowTitleSuffix[r]}`, fontSize: 11, fill: TEXT_GREY,
          fontFamily: FONT, align: "center", verticalAlign: "middle",
        },
      });

      const d = panelData[r][c];
      const base = { xAxisIndex: i, yAxisIndex: i, silent: true };
      series.push({ ...base, type: "scatter", name: "POAG", data: d.poag, symbol: "circle", symbolSize: 5.5, itemStyle: { color: C_POAG } });
      series.push({ ...base, type: "scatter", name: "NTG", data: d.ntg, symbol: "circle", symbolSize: 5.5, itemStyle: { color: C_NTG } });
      if (d.normal) {
        series.push({ ...base, type: "scatter", name: "Normal", data: d.normal, symbol: "circle", symbolSize: 6, itemStyle: { color: "rgba(255,255,255,0)", borderColor: C_NORMAL, borderWidth: 0.9 } });
      }
      const trend = (data: Pt[], color: string, name: string) => ({
        ...base, type: "line", name, data, symbol: "none", clip: true,
        lineStyle: { color, width: 1, type: [2, 1.5] },
      });
      series.push(trend(d.tPoag, T_POAG, "Linear - POAG"));
      series.push(trend(d.tNtg, T_NTG, "Linear - NTG"));
      if (d.tNormal) series.push(trend(d.tNormal, T_NORMAL, "Linear - Normal"));
      series.push({
        ...base, type: "scatter", name: "notes", symbol: "circle", symbolSize: 1,
        itemStyle: { color: "rgba(0,0,0,0)" }, z: 5,
        data: d.notes.map((n) => ({ value: [n[2], n[3]], label: { formatter: noteText(n[0], n[1]) } })),
        label: {
          show: true, position: "right", distance: 0, fontFamily: FONT,
          rich: {
            r: { fontSize: 7.5, lineHeight: 9, color: "#1a1a1a", fontFamily: FONT, verticalAlign: "middle" },
            s: { fontSize: 5, lineHeight: 9, color: "#1a1a1a", fontFamily: FONT, verticalAlign: "bottom" },
            p: { fontSize: 5, lineHeight: 9, color: "#1a1a1a", fontFamily: FONT, verticalAlign: "top" },
          },
        },
      });
    }
  }

  // legend drawn with graphic elements
  const ly1 = 1110;
  const ly2 = 1125.5;
  const legTxt = (text: string, x: number, y: number) => ({
    type: "text", x, y, style: { text, fontSize: 10, fill: "#404040", fontFamily: FONT, align: "left", verticalAlign: "middle" },
  });
  graphic.push({ type: "circle", shape: { cx: 218, cy: ly1, r: 5.5 }, style: { fill: C_POAG } });
  graphic.push(legTxt("POAG", 241, ly1));
  graphic.push({ type: "circle", shape: { cx: 360, cy: ly1, r: 5.5 }, style: { fill: C_NTG } });
  graphic.push(legTxt("NTG", 382, ly1));
  graphic.push({ type: "circle", shape: { cx: 489, cy: ly1, r: 5 }, style: { fill: "none", stroke: C_NORMAL, lineWidth: 1.5 } });
  graphic.push(legTxt("Normal", 512, ly1));
  const legLine = (x1: number, x2: number, color: string) => ({
    type: "line", shape: { x1, y1: ly2, x2, y2: ly2 }, style: { stroke: color, lineWidth: 1, lineDash: [2, 1.5] },
  });
  graphic.push(legLine(187, 212, T_POAG));
  graphic.push(legTxt("Linear - POAG", 221, ly2));
  graphic.push(legLine(327, 351, T_NTG));
  graphic.push(legTxt("Linear - NTG", 360, ly2));
  graphic.push(legLine(455, 481, T_NORMAL));
  graphic.push(legTxt("Linear - Normal", 490, ly2));

  return {
    animation: false,
    backgroundColor: "#ffffff",
    textStyle: { fontFamily: FONT },
    grid, xAxis, yAxis, series, graphic,
  };
}

export default function App() {
  const ref = useRef<HTMLDivElement>(null);
  useEffect(() => {
    document.body.style.margin = "0";
    if (!ref.current) return;
    const chart = echarts.init(ref.current, undefined, { renderer: "svg" });
    chart.setOption(buildOption() as any);
    return () => chart.dispose();
  }, []);
  return <div ref={ref} style={{ position: "absolute", left: 0, top: 0, width: 776, height: 1132, background: "#fff" }} />;
}
